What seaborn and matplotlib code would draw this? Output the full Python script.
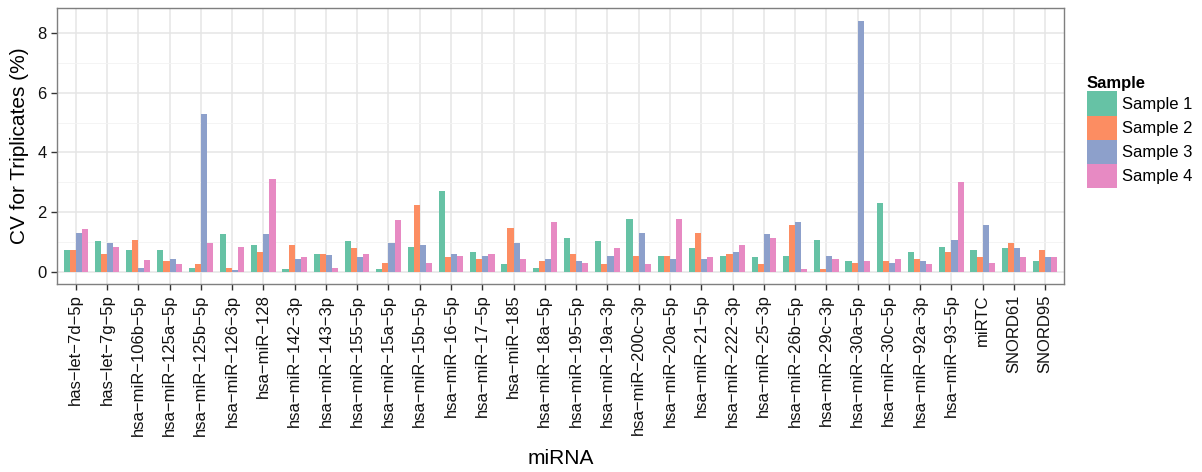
import matplotlib
matplotlib.use("Agg")
import matplotlib.pyplot as plt
import seaborn as sns
import pandas as pd
from matplotlib.ticker import MultipleLocator

mirnas = [
    "has−let−7d−5p", "has−let−7g−5p", "hsa−miR−106b−5p", "hsa−miR−125a−5p",
    "hsa−miR−125b−5p", "hsa−miR−126−3p", "hsa−miR−128", "hsa−miR−142−3p",
    "hsa−miR−143−3p", "hsa−miR−155−5p", "hsa−miR−15a−5p", "hsa−miR−15b−5p",
    "hsa−miR−16−5p", "hsa−miR−17−5p", "hsa−miR−185", "hsa−miR−18a−5p",
    "hsa−miR−195−5p", "hsa−miR−19a−3p", "hsa−miR−200c−3p", "hsa−miR−20a−5p",
    "hsa−miR−21−5p", "hsa−miR−222−3p", "hsa−miR−25−3p", "hsa−miR−26b−5p",
    "hsa−miR−29c−3p", "hsa−miR−30a−5p", "hsa−miR−30c−5p", "hsa−miR−92a−3p",
    "hsa−miR−93−5p", "miRTC", "SNORD61", "SNORD95",
]

sample1 = [0.72, 1.03, 0.72, 0.72, 0.13, 1.25, 0.89, 0.08, 0.60, 1.03, 0.08, 0.84,
           2.71, 0.66, 0.25, 0.13, 1.13, 1.02, 1.78, 0.54, 0.79, 0.54, 0.48, 0.54,
           1.07, 0.37, 2.31, 0.66, 0.84, 0.72, 0.79, 0.37]
sample2 = [0.72, 0.60, 1.07, 0.37, 0.25, 0.13, 0.66, 0.89, 0.60, 0.79, 0.30, 2.25,
           0.48, 0.43, 1.48, 0.37, 0.60, 0.25, 0.54, 0.54, 1.31, 0.60, 0.25, 1.55,
           0.08, 0.30, 0.37, 0.43, 0.66, 0.48, 0.95, 0.72]
sample3 = [1.31, 0.95, 0.13, 0.44, 5.28, 0.07, 1.25, 0.43, 0.55, 0.48, 0.95, 0.89,
           0.60, 0.54, 0.95, 0.43, 0.37, 0.54, 1.31, 0.43, 0.43, 0.66, 1.25, 1.66,
           0.54, 8.43, 0.30, 0.37, 1.07, 1.55, 0.79, 0.48]
sample4 = [1.42, 0.84, 0.38, 0.25, 0.95, 0.84, 3.12, 0.48, 0.13, 0.60, 1.72, 0.30,
           0.54, 0.60, 0.43, 1.65, 0.30, 0.79, 0.25, 1.78, 0.48, 0.90, 1.13, 0.08,
           0.43, 0.37, 0.43, 0.25, 3.00, 0.30, 0.48, 0.48]

sample_names = ["Sample 1", "Sample 2", "Sample 3", "Sample 4"]
series = [sample1, sample2, sample3, sample4]

df = pd.DataFrame({
    "miRNA": [m for _ in sample_names for m in mirnas],
    "Sample": [s for s in sample_names for _ in mirnas],
    "CV": [v for vals in series for v in vals],
})

plt.rcParams["font.family"] = ["Liberation Sans", "DejaVu Sans"]

fig = plt.figure(figsize=(12.02, 4.72), dpi=100)
ax = fig.add_axes([0.0474, 0.398, 0.8378, 0.585])

palette = ["#66C2A5", "#FC8D62", "#8DA0CB", "#E78AC3"]
sns.barplot(data=df, x="miRNA", y="CV", hue="Sample", order=mirnas,
            hue_order=sample_names, palette=palette, width=0.78,
            saturation=1, ax=ax, errorbar=None, zorder=3)

# panel styling: white background, light grid, grey border
ax.set_facecolor("white")
ax.set_xlim(-0.6, len(mirnas) - 0.4)
ax.set_ylim(-0.42, 8.85)
ax.yaxis.set_major_locator(MultipleLocator(2))
ax.yaxis.set_minor_locator(MultipleLocator(1))
ax.grid(True, which="major", color="#E5E5E5", linewidth=1.1, zorder=0)
ax.grid(True, which="minor", axis="y", color="#F3F3F3", linewidth=0.6, zorder=0)
ax.set_axisbelow(True)
for sp in ax.spines.values():
    sp.set_color("#7F7F7F")
    sp.set_linewidth(1.0)

ax.tick_params(axis="both", which="major", length=4, width=1.0, color="#333333",
               labelsize=12, labelcolor="#111111")
ax.tick_params(axis="y", which="minor", length=0)
ax.set_xticks(range(len(mirnas)))
ax.set_xticklabels(mirnas, rotation=90, ha="center", va="top")

ax.set_xlabel("miRNA", fontsize=15, labelpad=9)
ax.set_ylabel("CV for Triplicates (%)", fontsize=15, labelpad=6)

# legend to the right of the panel
handles, labels = ax.get_legend_handles_labels()
if ax.legend_:
    ax.legend_.remove()
for h in handles:
    h.set_edgecolor("none")
leg = fig.legend(handles, labels, title="Sample", loc="upper left",
                 bbox_to_anchor=(0.904, 0.838), frameon=False, fontsize=12,
                 title_fontproperties={"weight": "bold", "size": 12},
                 handlelength=1.85, handleheight=1.85, labelspacing=0.0,
                 handletextpad=0.3, borderaxespad=0.0, borderpad=0.0)
leg._legend_box.align = "left"

fig.savefig("out.png", dpi=100)
